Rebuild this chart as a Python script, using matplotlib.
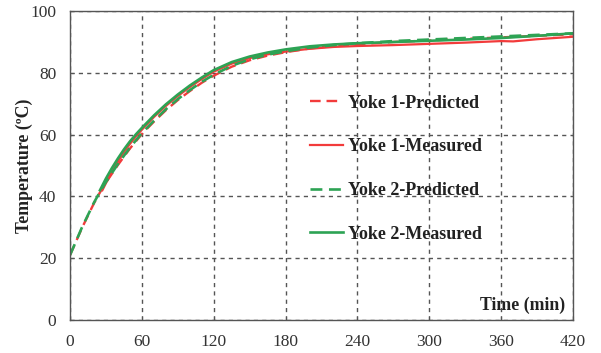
import matplotlib
matplotlib.use("Agg")
import matplotlib.pyplot as plt
from matplotlib.patches import Rectangle

# time (min) and temperature (degC)
t_pred = [0, 5, 10, 15, 20, 25, 30, 40, 50, 60, 70, 80, 90, 100, 110, 120, 135, 150, 165, 180,
          200, 220, 240, 270, 300, 330, 360, 390, 420]
yoke2_pred = [21, 25.5, 30, 34, 38, 41.5, 44.7, 50.5, 55.8, 60.5, 64.5, 68.2, 71.5, 74.4, 77.1, 79.4,
              82.3, 84.4, 85.9, 87, 88.2, 89, 89.6, 90.3, 90.8, 91.3, 91.8, 92.3, 92.8]
yoke1_pred = [21, 25.4, 29.8, 33.8, 37.8, 41.3, 44.5, 50.2, 55.5, 60.2, 64.2, 67.9, 71.2, 74.1, 76.8, 79.1,
              82.0, 84.1, 85.6, 86.7, 87.9, 88.7, 89.3, 90.0, 90.5, 91.0, 91.5, 92.0, 92.5]

t_meas1 = [27, 30, 35, 40, 45, 50, 55, 60, 70, 80, 90, 100, 110, 120, 135, 150, 165, 180,
           200, 220, 240, 270, 300, 330, 360, 370, 390, 420]
yoke1_meas = [42, 44.3, 48, 51.3, 54.3, 57, 59.4, 61.6, 65.7, 69.3, 72.5, 75.4, 78, 80.4, 83, 84.8, 86, 86.9,
              87.8, 88.4, 88.7, 89.0, 89.4, 89.8, 90.3, 90.2, 90.9, 91.7]
t_meas2 = [25, 30, 35, 40, 45, 50, 55, 60, 70, 80, 90, 100, 110, 120, 135, 150, 165, 180,
           200, 220, 240, 270, 300, 330, 360, 390, 420]
yoke2_meas = [42, 45.8, 49.2, 52.3, 55.2, 57.8, 60.1, 62.2, 66.2, 69.8, 73, 75.9, 78.5, 80.9, 83.5, 85.3,
              86.6, 87.6, 88.6, 89.2, 89.6, 90, 90.4, 90.8, 91.3, 92, 92.8]

x_ticks = [0, 60, 120, 180, 240, 300, 360, 420]
y_ticks = [0, 20, 40, 60, 80, 100]

RED = "#f23b3b"
GREEN = "#2da354"
SERIF = ["Liberation Serif", "DejaVu Serif"]

fig = plt.figure(figsize=(6.01, 3.53), dpi=100)
ax = fig.add_axes([0.1165, 0.0935, 0.837, 0.875])

ax.plot(t_pred, yoke1_pred, color=RED, lw=1.7, dashes=(4.5, 2.5), label="Yoke 1-Predicted")
ax.plot(t_meas1, yoke1_meas, "-", color=RED, lw=1.6, label="Yoke 1-Measured")
ax.plot(t_pred, yoke2_pred, color=GREEN, lw=1.9, dashes=(4.5, 2.5), label="Yoke 2-Predicted")
ax.plot(t_meas2, yoke2_meas, "-", color=GREEN, lw=1.9, label="Yoke 2-Measured")

# white patch behind the legend hides the grid there
ax.add_patch(Rectangle((0.432, 0.21), 0.423, 0.58, transform=ax.transAxes,
                       facecolor="white", edgecolor="none", zorder=1))

ax.set_xlim(0, 420)
ax.set_ylim(0, 100)
ax.set_xticks(x_ticks)
ax.set_yticks(y_ticks)
ax.tick_params(direction="in", length=3, color="#555555", labelsize=12.5, labelcolor="#333333")
ax.tick_params(axis="x", pad=10)
ax.tick_params(axis="y", pad=10)
for lab in ax.get_xticklabels() + ax.get_yticklabels():
    lab.set_family(SERIF)
ax.grid(True, ls=(0, (3, 3)), color="#555555", lw=1.0)
for sp in ax.spines.values():
    sp.set_color("#555555")
    sp.set_linewidth(1.0)

ax.set_ylabel("Temperature (ºC)", family=SERIF, fontweight="bold", fontsize=12.8, color="#222222")
ax.yaxis.set_label_coords(-0.073, 0.5)
ax.text(0.985, 0.02, "Time (min)", transform=ax.transAxes, ha="right", va="bottom",
        family=SERIF, fontweight="bold", fontsize=12.8, color="#222222")

leg = ax.legend(loc="center left", bbox_to_anchor=(0.477, 0.49), frameon=False,
                handlelength=1.85, handletextpad=0.28, labelspacing=1.48, borderpad=0,
                borderaxespad=0, prop={"family": SERIF, "weight": "bold", "size": 13})
for txt in leg.get_texts():
    txt.set_color("#222222")

fig.savefig("out.png", dpi=100)
